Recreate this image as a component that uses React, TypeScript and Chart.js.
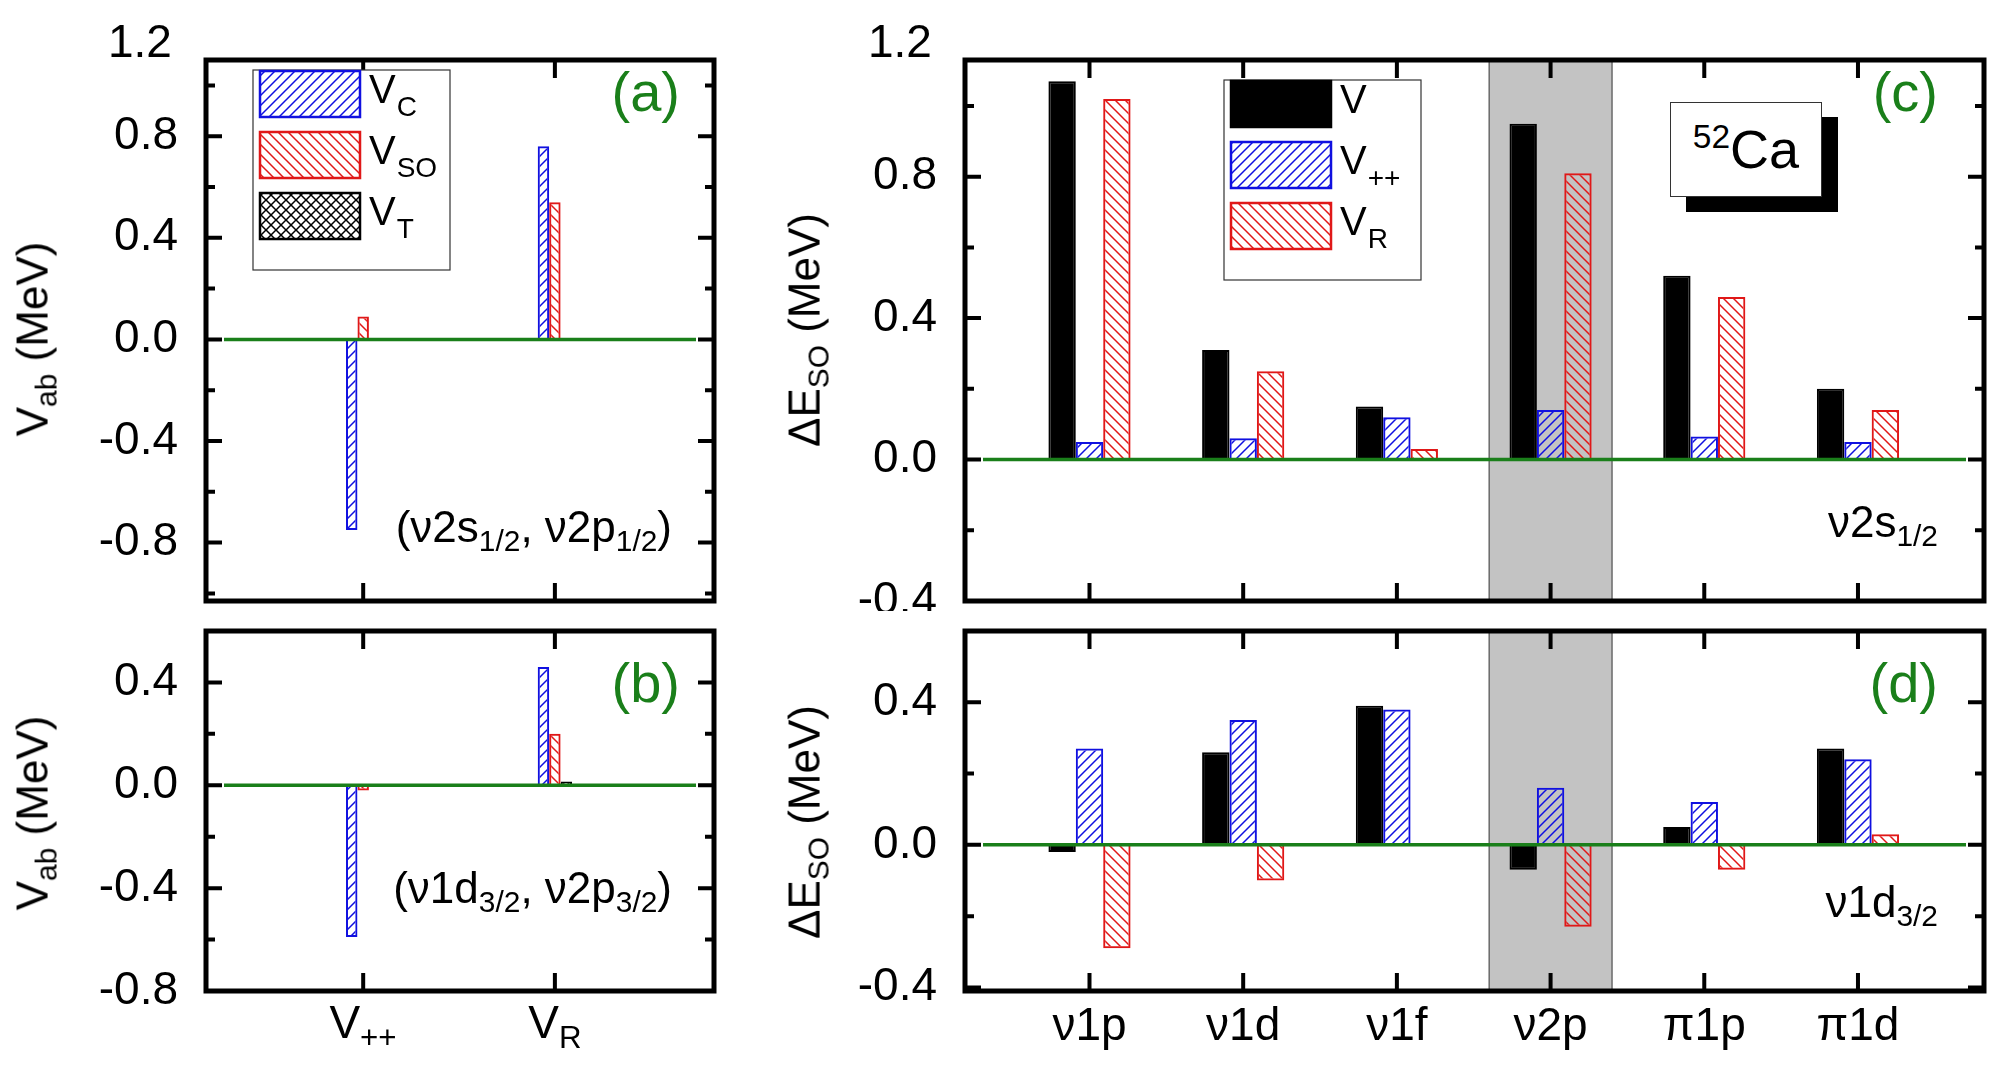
import React, { useEffect, useRef } from "react";
import { Chart, registerables } from "chart.js";
Chart.register(...registerables);

// ---- data ----
const abCats = ["V++", "VR"];
const aVC = [-0.75, 0.76];
const aVSO = [0.09, 0.54];
const aVT = [0.0, 0.0];
const bVC = [-0.59, 0.46];
const bVSO = [-0.02, 0.2];
const bVT = [-0.005, 0.015];
const cdCats = ["ν1p", "ν1d", "ν1f", "ν2p", "π1p", "π1d"];
const cV = [1.07, 0.31, 0.15, 0.95, 0.52, 0.2];
const cVpp = [0.05, 0.06, 0.12, 0.14, 0.065, 0.05];
const cVR = [1.02, 0.25, 0.03, 0.81, 0.46, 0.14];
const dV = [-0.02, 0.26, 0.39, -0.07, 0.05, 0.27];
const dVpp = [0.27, 0.35, 0.38, 0.16, 0.12, 0.24];
const dVR = [-0.29, -0.1, 0.003, -0.23, -0.07, 0.03];

const BLUE = "#1010e0";
const RED = "#e01818";
const GREEN = "#1a7f1a";
const FONT = "'Liberation Sans', Arial, sans-serif";

function hatch(color: string, dir: string): CanvasPattern | string {
  const c = document.createElement("canvas");
  const s = 10;
  c.width = s; c.height = s;
  const g = c.getContext("2d")!;
  g.strokeStyle = color; g.lineWidth = 1.5;
  const slash = () => {
    g.beginPath();
    g.moveTo(0, s); g.lineTo(s, 0);
    g.moveTo(-s / 2, s / 2); g.lineTo(s / 2, -s / 2);
    g.moveTo(s / 2, s * 1.5); g.lineTo(s * 1.5, s / 2);
    g.stroke();
  };
  const back = () => {
    g.beginPath();
    g.moveTo(0, 0); g.lineTo(s, s);
    g.moveTo(s / 2, -s / 2); g.lineTo(s * 1.5, s / 2);
    g.moveTo(-s / 2, s / 2); g.lineTo(s / 2, s * 1.5);
    g.stroke();
  };
  if (dir === "/" || dir === "x") slash();
  if (dir === "\\" || dir === "x") back();
  return g.createPattern(c, "repeat")!;
}

type Entry = { fill: any; border: string; main: string; sub: string };
type Panel = {
  left: number; top: number; w: number; h: number;
  ymin: number; ymax: number; xmin: number; xmax: number;
  n: number; catPct: number; showX: boolean; xLabels: string[];
  band?: [number, number];
  legend?: { x: number; y: number; entries: Entry[] };
  datasets: { data: number[]; fill: any; border: string }[];
};

function ChartPanel({ p }: { p: Panel }) {
  const ref = useRef<HTMLCanvasElement>(null);
  const PL = 150, PT = 20, PR = 6;
  const PB = p.showX ? 80 : 10;
  useEffect(() => {
    const plug = {
      id: "custom",
      beforeDatasetsDraw(chart: any) {
        if (!p.band) return;
        const { ctx, chartArea: a } = chart;
        const x = chart.scales.x;
        const x0 = x.getPixelForValue(p.band[0]), x1 = x.getPixelForValue(p.band[1]);
        ctx.save();
        ctx.fillStyle = "#c3c3c3";
        ctx.fillRect(x0, a.top, x1 - x0, a.bottom - a.top);
        ctx.strokeStyle = "#333"; ctx.lineWidth = 1;
        ctx.strokeRect(x0, a.top, x1 - x0, a.bottom - a.top);
        ctx.restore();
      },
      afterDatasetsDraw(chart: any) {
        const { ctx, chartArea: a } = chart;
        const y0 = chart.scales.y.getPixelForValue(0);
        ctx.save();
        ctx.strokeStyle = GREEN; ctx.lineWidth = 3.5;
        ctx.beginPath(); ctx.moveTo(a.left + 18, y0); ctx.lineTo(a.right - 18, y0); ctx.stroke();
        ctx.restore();
      },
      afterDraw(chart: any) {
        const { ctx, chartArea: a } = chart;
        const ys = chart.scales.y, xs = chart.scales.x;
        ctx.save();
        ctx.strokeStyle = "#000"; ctx.lineWidth = 4;
        ctx.fillStyle = "#000";
        ctx.font = `46px ${FONT}`;
        ctx.beginPath();
        for (let k = Math.ceil(p.ymin / 0.2 - 1e-6); k * 0.2 <= p.ymax + 1e-6; k++) {
          const v = k * 0.2;
          const py = ys.getPixelForValue(v);
          const major = k % 2 === 0;
          const L = major ? 16 : 9;
          ctx.moveTo(a.left, py); ctx.lineTo(a.left + L, py);
          ctx.moveTo(a.right, py); ctx.lineTo(a.right - L, py);
          if (major) {
            ctx.textAlign = "right"; ctx.textBaseline = "middle";
            ctx.fillText(k === 0 ? "0.0" : v.toFixed(1), a.left - 28, py);
          }
        }
        for (let i = 1; i <= p.n; i++) {
          const px = xs.getPixelForValue(i);
          ctx.moveTo(px, a.top); ctx.lineTo(px, a.top + 18);
          ctx.moveTo(px, a.bottom); ctx.lineTo(px, a.bottom - 18);
          if (p.showX && p.xLabels[i - 1]) {
            ctx.textAlign = "center"; ctx.textBaseline = "middle";
            ctx.fillText(p.xLabels[i - 1], px, a.bottom + 36);
          }
        }
        ctx.stroke();
        ctx.lineWidth = 5;
        ctx.strokeRect(a.left, a.top, a.right - a.left, a.bottom - a.top);
        if (p.legend) {
          const L = p.legend;
          const bx = a.left + L.x, by = a.top + L.y;
          ctx.lineWidth = 1.2; ctx.strokeStyle = "#333";
          ctx.fillStyle = "#fff";
          ctx.fillRect(bx, by, 197, 200);
          ctx.strokeRect(bx, by, 197, 200);
          ctx.textAlign = "left";
          L.entries.forEach((e, i) => {
            const cy = by + 24 + i * 61;
            ctx.fillStyle = e.fill;
            ctx.fillRect(bx + 7, cy - 23, 100, 46);
            ctx.strokeStyle = e.border; ctx.lineWidth = 2.5;
            ctx.strokeRect(bx + 7, cy - 23, 100, 46);
            ctx.fillStyle = "#000";
            ctx.font = `40px ${FONT}`;
            ctx.textBaseline = "middle";
            ctx.fillText(e.main, bx + 116, cy - 2);
            const w = ctx.measureText(e.main).width;
            ctx.font = `28px ${FONT}`;
            ctx.fillText(e.sub, bx + 116 + w + 1, cy + 14);
          });
        }
        ctx.restore();
      },
    };
    const chart = new Chart(ref.current!, {
      type: "bar",
      data: {
        datasets: p.datasets.map((d) => ({
          data: d.data.map((v, i) => ({ x: i + 1, y: v })),
          backgroundColor: d.fill,
          borderColor: d.border,
          borderWidth: 2,
          categoryPercentage: p.catPct,
          barPercentage: 1,
        })) as any,
      },
      options: {
        animation: false,
        responsive: false,
        maintainAspectRatio: false,
        layout: { padding: { left: PL, top: PT, right: PR, bottom: PB } },
        plugins: { legend: { display: false }, tooltip: { enabled: false } },
        scales: {
          x: { type: "linear", min: p.xmin, max: p.xmax, offset: false, display: false },
          y: { min: p.ymin, max: p.ymax, display: false },
        },
      } as any,
      plugins: [plug],
    });
    return () => chart.destroy();
  }, []);
  return (
    <div style={{ position: "absolute", left: p.left - PL, top: p.top - PT, width: p.w + PL + PR, height: p.h + PT + PB }}>
      <canvas ref={ref} width={p.w + PL + PR} height={p.h + PT + PB} />
    </div>
  );
}

const T = (style: React.CSSProperties, children: React.ReactNode) => (
  <div style={{ position: "absolute", fontFamily: FONT, whiteSpace: "nowrap", lineHeight: 1, ...style }}>{children}</div>
);
const sub = (s: string) => <sub style={{ fontSize: "0.68em", verticalAlign: "-0.3em" }}>{s}</sub>;

export default function App() {
  const bF = hatch(BLUE, "/"), rF = hatch(RED, "\\"), kF = hatch("#000", "x");
  const legAB: Entry[] = [
    { fill: bF, border: BLUE, main: "V", sub: "C" },
    { fill: rF, border: RED, main: "V", sub: "SO" },
    { fill: kF, border: "#000", main: "V", sub: "T" },
  ];
  const legC: Entry[] = [
    { fill: "#000", border: "#000", main: "V", sub: "" },
    { fill: bF, border: BLUE, main: "V", sub: "++" },
    { fill: rF, border: RED, main: "V", sub: "R" },
  ];
  const ab = { left: 206, w: 508, xmin: 0.18, xmax: 2.83, n: 2, catPct: 0.56, xLabels: ["", ""] };
  const cd = { left: 965, w: 1019, xmin: 0.19, xmax: 6.82, n: 6, catPct: 0.66, band: [3.6, 4.4] as [number, number] };
  const pa: Panel = { ...ab, top: 60, h: 541, ymin: -1.03, ymax: 1.1, showX: false,
    legend: { x: 47, y: 10, entries: legAB },
    datasets: [{ data: aVC, fill: bF, border: BLUE }, { data: aVSO, fill: rF, border: RED }, { data: aVT, fill: kF, border: "#000" }] };
  const pb: Panel = { ...ab, top: 631, h: 360, ymin: -0.8, ymax: 0.6, showX: true,
    datasets: [{ data: bVC, fill: bF, border: BLUE }, { data: bVSO, fill: rF, border: RED }, { data: bVT, fill: kF, border: "#000" }] };
  const pc: Panel = { ...cd, xLabels: cdCats, top: 60, h: 541, ymin: -0.4, ymax: 1.13, showX: false,
    legend: { x: 259, y: 20, entries: legC },
    datasets: [{ data: cV, fill: "#000", border: "#000" }, { data: cVpp, fill: bF, border: BLUE }, { data: cVR, fill: rF, border: RED }] };
  const pd: Panel = { ...cd, xLabels: cdCats, top: 631, h: 360, ymin: -0.41, ymax: 0.6, showX: true,
    datasets: [{ data: dV, fill: "#000", border: "#000" }, { data: dVpp, fill: bF, border: BLUE }, { data: dVR, fill: rF, border: RED }] };
  const yt = (x: number, y: number, txt: React.ReactNode) =>
    T({ left: x, top: y, fontSize: 44, transform: "translate(-50%,-50%) rotate(-90deg)" }, txt);
  const green = { color: GREEN, fontSize: 56 };
  return (
    <div style={{ position: "absolute", left: 0, top: 0, width: 1991, height: 1076, background: "#fff", overflow: "hidden" }}>
      <ChartPanel p={pa} />
      <ChartPanel p={pb} />
      <ChartPanel p={pc} />
      <ChartPanel p={pd} />
      {T({ left: 108, top: 18, fontSize: 46 }, "1.2")}
      {T({ left: 868, top: 18, fontSize: 46 }, "1.2")}
      {yt(36, 339, <>V{sub("ab")} (MeV)</>)}
      {yt(36, 813, <>V{sub("ab")} (MeV)</>)}
      {yt(808, 330, <>ΔE{sub("SO")} (MeV)</>)}
      {yt(808, 822, <>ΔE{sub("SO")} (MeV)</>)}
      {T({ right: 1991 - 680, top: 64, ...green }, "(a)")}
      {T({ right: 1991 - 680, top: 655, ...green }, "(b)")}
      {T({ right: 1991 - 1938, top: 64, ...green }, "(c)")}
      {T({ right: 1991 - 1938, top: 655, ...green }, "(d)")}
      {T({ right: 1991 - 672, top: 505, fontSize: 44 }, <>(ν2s{sub("1/2")}, ν2p{sub("1/2")})</>)}
      {T({ right: 1991 - 672, top: 866, fontSize: 44 }, <>(ν1d{sub("3/2")}, ν2p{sub("3/2")})</>)}
      {T({ right: 1991 - 1938, top: 500, fontSize: 44 }, <>ν2s{sub("1/2")}</>)}
      {T({ right: 1991 - 1938, top: 880, fontSize: 44 }, <>ν1d{sub("3/2")}</>)}
      {T({ left: 363, top: 1026, fontSize: 46, transform: "translate(-50%,-50%)" }, <>V{sub("++")}</>)}
      {T({ left: 555, top: 1026, fontSize: 46, transform: "translate(-50%,-50%)" }, <>V{sub("R")}</>)}
      <div style={{ position: "absolute", left: 1686, top: 117, width: 152, height: 95, background: "#000" }} />
      <div style={{ position: "absolute", left: 1670, top: 102, width: 150, height: 93, background: "#fff", border: "1px solid #333", fontFamily: FONT, display: "flex", alignItems: "center", justifyContent: "center" }}>
        <span style={{ fontSize: 54 }}><sup style={{ fontSize: "0.62em", verticalAlign: "0.6em" }}>52</sup>Ca</span>
      </div>
    </div>
  );
}
